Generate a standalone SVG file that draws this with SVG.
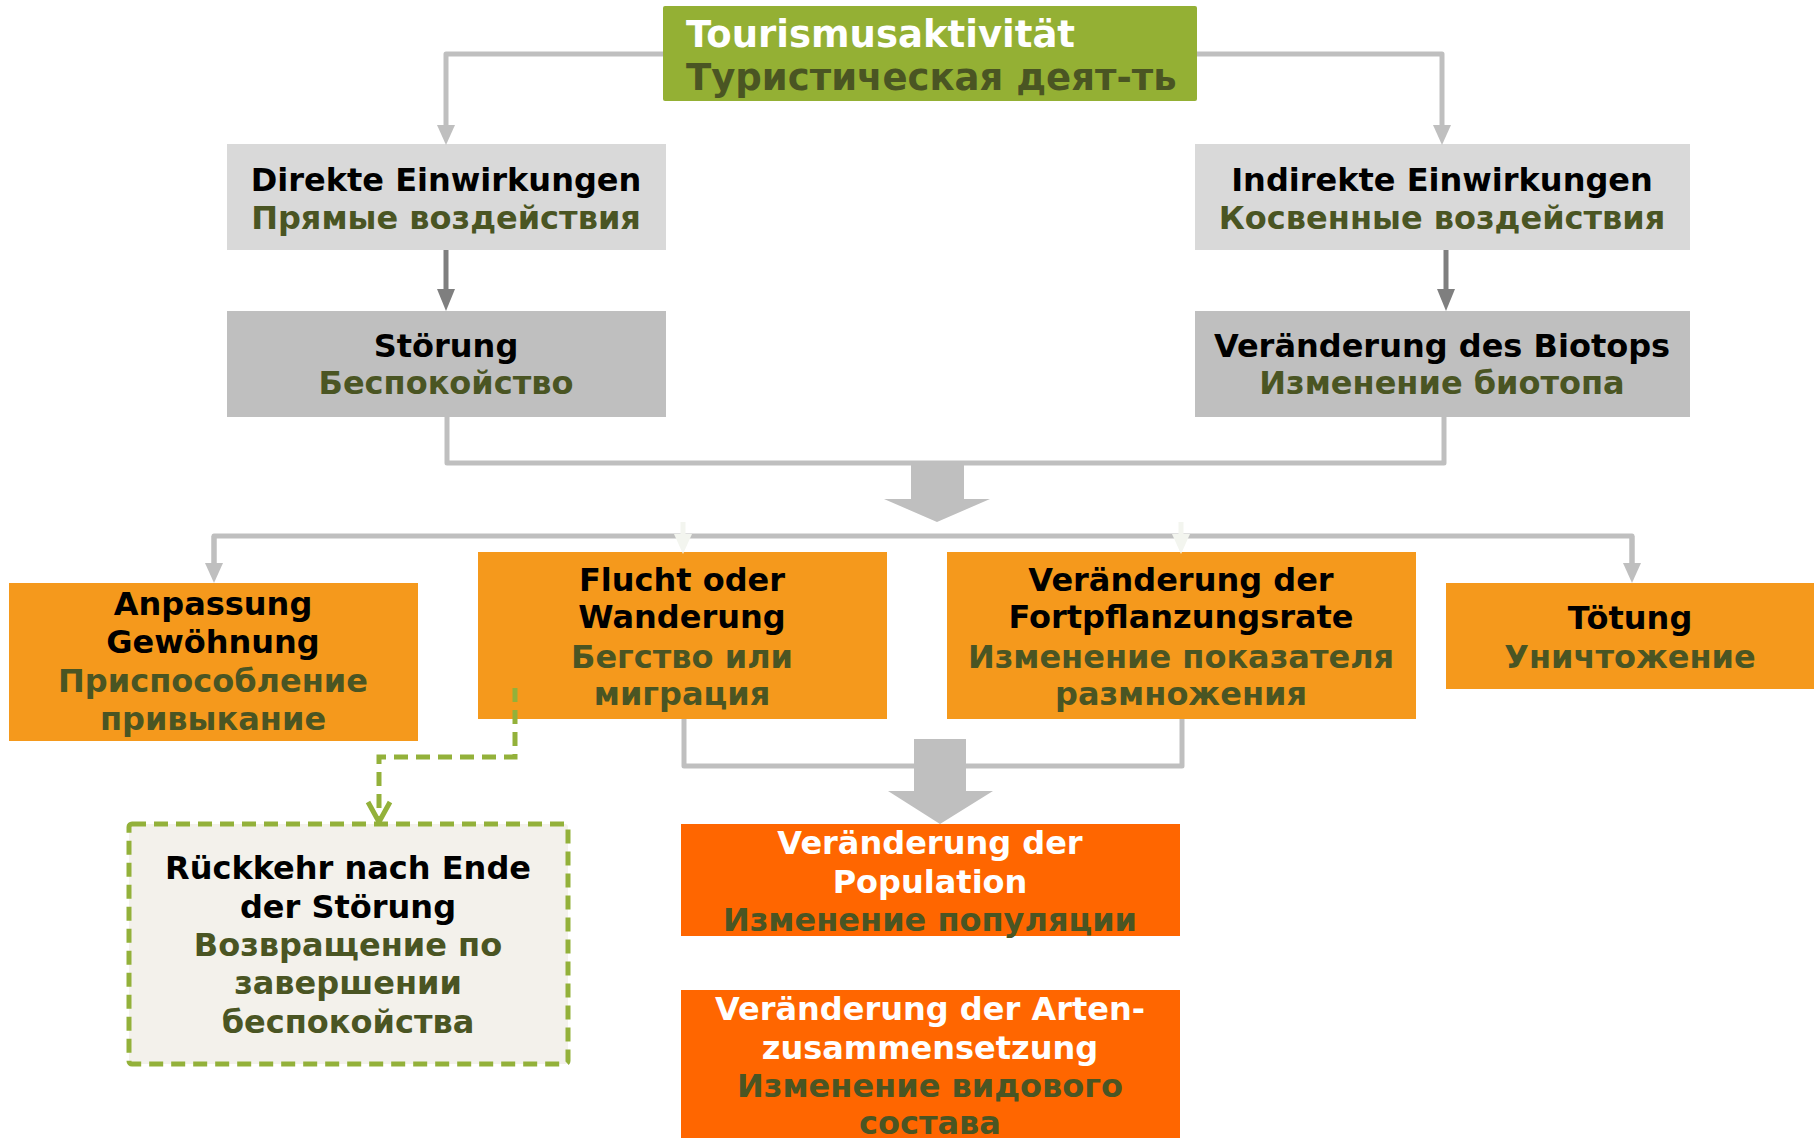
<svg xmlns="http://www.w3.org/2000/svg" width="1818" height="1138" viewBox="0 0 1818 1138">
<style>
text{font-family:"DejaVu Sans","Verdana","Liberation Sans",sans-serif;font-weight:bold;font-size:32px;text-anchor:middle}
.de{fill:#000}
.ru{fill:#4A5523}
.w{fill:#fff}
.lc{fill:none;stroke:#BFBFBF;stroke-width:5;stroke-linejoin:round}
.dc{fill:none;stroke:#7F7F7F;stroke-width:5}
.gc{fill:none;stroke:#93B13A;stroke-width:5;stroke-dasharray:14 8}
.ghost{fill:none;stroke:#F3F5EF;stroke-width:5}
</style>
<defs>
<marker id="al" markerUnits="userSpaceOnUse" markerWidth="20" markerHeight="20" viewBox="0 0 20 20" refX="3" refY="10" orient="auto"><path d="M0,1 L20,10 L0,19 z" fill="#BFBFBF"/></marker>
<marker id="ad" markerUnits="userSpaceOnUse" markerWidth="22" markerHeight="20" viewBox="0 0 22 20" refX="3" refY="10" orient="auto"><path d="M0,1 L22,10 L0,19 z" fill="#7F7F7F"/></marker>
<marker id="ag" markerUnits="userSpaceOnUse" markerWidth="26" markerHeight="28" viewBox="0 0 26 28" refX="22" refY="14" orient="auto"><path d="M2,3 L22,14 L2,25" fill="none" stroke="#93B13A" stroke-width="5"/></marker>
<marker id="agh" markerUnits="userSpaceOnUse" markerWidth="20" markerHeight="20" viewBox="0 0 20 20" refX="3" refY="10" orient="auto"><path d="M0,1 L20,10 L0,19 z" fill="#F3F5EF"/></marker>
</defs>

<g id="n-tourismus">
<rect x="663" y="6" width="534" height="95" rx="2" fill="#94B034"/>
<text x="686" y="47" class="w" style="text-anchor:start;font-size:37px">Tourismusaktivität</text>
<text x="686" y="90" class="ru" style="text-anchor:start;font-size:37px">Туристическая деят-ть</text>
</g>

<g id="n-direkt">
<rect x="227" y="144" width="439" height="106" fill="#D9D9D9"/>
<text x="446" y="191" class="de">Direkte Einwirkungen</text>
<text x="446" y="229" class="ru">Прямые воздействия</text>
</g>

<g id="n-indirekt">
<rect x="1195" y="144" width="495" height="106" fill="#D9D9D9"/>
<text x="1442" y="191" class="de">Indirekte Einwirkungen</text>
<text x="1442" y="229" class="ru">Косвенные воздействия</text>
</g>

<g id="n-stoerung">
<rect x="227" y="311" width="439" height="106" fill="#BFBFBF"/>
<text x="446" y="357" class="de">Störung</text>
<text x="446" y="394" class="ru">Беспокойство</text>
</g>

<g id="n-biotop">
<rect x="1195" y="311" width="495" height="106" fill="#BFBFBF"/>
<text x="1442" y="357" class="de">Veränderung des Biotops</text>
<text x="1442" y="394" class="ru">Изменение биотопа</text>
</g>

<g id="n-anpassung">
<rect x="9" y="583" width="409" height="158" fill="#F5991C"/>
<text x="213" y="615" class="de">Anpassung</text>
<text x="213" y="653" class="de">Gewöhnung</text>
<text x="213" y="692" class="ru">Приспособление</text>
<text x="213" y="730" class="ru">привыкание</text>
</g>

<g id="n-flucht">
<rect x="478" y="552" width="409" height="167" fill="#F5991C"/>
<text x="682" y="591" class="de">Flucht oder</text>
<text x="682" y="628" class="de">Wanderung</text>
<text x="682" y="668" class="ru">Бегство или</text>
<text x="682" y="705" class="ru">миграция</text>
</g>

<g id="n-fortpflanzung">
<rect x="947" y="552" width="469" height="167" fill="#F5991C"/>
<text x="1181" y="591" class="de">Veränderung der</text>
<text x="1181" y="628" class="de">Fortpflanzungsrate</text>
<text x="1181" y="668" class="ru">Изменение показателя</text>
<text x="1181" y="705" class="ru">размножения</text>
</g>

<g id="n-toetung">
<rect x="1446" y="583" width="368" height="106" fill="#F5991C"/>
<text x="1630" y="629" class="de">Tötung</text>
<text x="1630" y="668" class="ru">Уничтожение</text>
</g>

<g id="n-rueckkehr">
<rect x="129" y="824" width="439" height="240" rx="3" fill="#F3F1EB" stroke="#93B13A" stroke-width="5" stroke-dasharray="14 8"/>
<text x="348" y="879" class="de">Rückkehr nach Ende</text>
<text x="348" y="918" class="de">der Störung</text>
<text x="348" y="956" class="ru">Возвращение по</text>
<text x="348" y="994" class="ru">завершении</text>
<text x="348" y="1033" class="ru">беспокойства</text>
</g>

<g id="n-population">
<rect x="681" y="824" width="499" height="112" fill="#FF6600"/>
<text x="930" y="854" class="w">Veränderung der</text>
<text x="930" y="893" class="w">Population</text>
<text x="930" y="931" class="ru">Изменение популяции</text>
</g>

<g id="n-arten">
<rect x="681" y="990" width="499" height="148" fill="#FF6600"/>
<text x="930" y="1020" class="w">Veränderung der Arten-</text>
<text x="930" y="1059" class="w">zusammensetzung</text>
<text x="930" y="1097" class="ru">Изменение видового</text>
<text x="930" y="1134" class="ru">состава</text>
</g>

<g id="connectors">
<path class="lc" d="M663,54 H446 V128" marker-end="url(#al)"/>
<path class="lc" d="M1197,54 H1442 V128" marker-end="url(#al)"/>
<path class="dc" d="M446,250 V292" marker-end="url(#ad)"/>
<path class="dc" d="M1446,250 V292" marker-end="url(#ad)"/>
<path class="lc" d="M447,417 V463 H1444 V417"/>
<polygon fill="#BFBFBF" points="911,465 964,465 964,499 990,499 937,522 884,499 911,499"/>
<path class="lc" d="M214,566 V536 H1632 V566"/>
<path d="M214,536 V566" class="lc" marker-end="url(#al)"/>
<path d="M1632,536 V566" class="lc" marker-end="url(#al)"/>
<path class="ghost" d="M683,522 V537" marker-end="url(#agh)"/>
<path class="ghost" d="M1181,522 V537" marker-end="url(#agh)"/>
<path class="lc" d="M684,719 V766 H1182 V719"/>
<polygon fill="#BFBFBF" points="914,739 966,739 966,791 993,791 940,824 888,791 914,791"/>
<path class="gc" d="M515,688 V757 H379 V822" marker-end="url(#ag)"/>
</g>
</svg>
